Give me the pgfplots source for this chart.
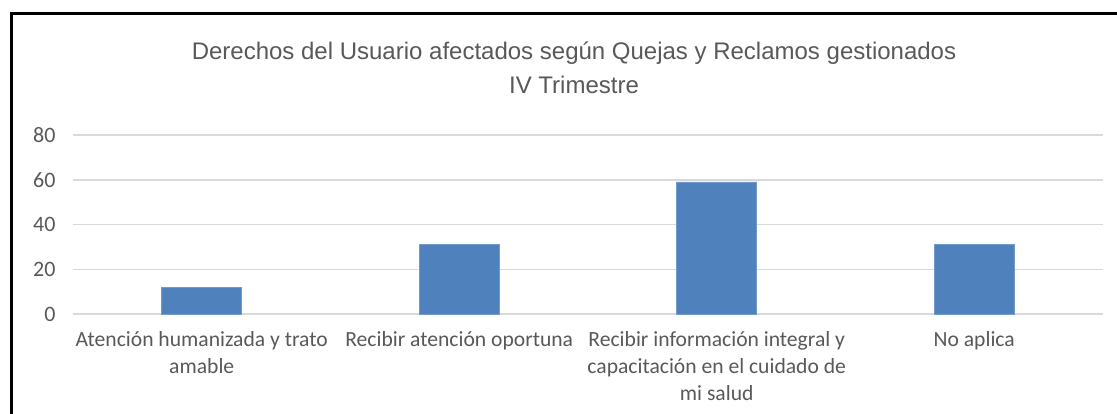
\documentclass[border=0pt]{standalone}
\usepackage{pgfplots}
\pgfplotsset{compat=1.18}
\usepackage{fontspec}
\setmainfont{Carlito}
\newfontfamily\titlefont{Liberation Sans}
\definecolor{barblue}{HTML}{4F81BD}
\definecolor{txtgray}{HTML}{595959}
\definecolor{gridgray}{HTML}{D9D9D9}
\begin{document}
\begin{tikzpicture}[x=1pt,y=1pt]
\useasboundingbox (0,0) rectangle (1117,413);
\fill[white] (0,0) rectangle (1117,413);
\draw[line width=3pt,black] (11,-20) -- (11,399) -- (1130,399);
\node[anchor=base,text=txtgray,font=\titlefont\fontsize{24}{28}\selectfont] at (574,353) {Derechos del Usuario afectados según Quejas y Reclamos gestionados};
\node[anchor=base,text=txtgray,font=\titlefont\fontsize{24}{28}\selectfont] at (574,319) {IV Trimestre};
\begin{axis}[
  at={(73pt,99pt)}, anchor=south west,
  scale only axis, width=1030pt, height=179pt,
  xmin=-0.5, xmax=3.5, ymin=0, ymax=80,
  ytick={0,20,40,60,80},
  xtick={0,1,2,3},
  xticklabels={{Atención humanizada y trato\\amable},{Recibir atención oportuna},{Recibir información integral y\\capacitación en el cuidado de\\mi salud},{No aplica}},
  axis line style={draw=none},
  major tick length=0pt,
  ymajorgrids, grid style={gridgray, line width=1.5pt},
  /pgf/number format/assume math mode=true,
  yticklabel style={text=txtgray, font=\fontsize{22}{26}\selectfont, xshift=-14pt},
  xticklabel style={text=txtgray, font=\fontsize{21.6}{27}\selectfont, align=center, yshift=-14pt},
  ybar, bar width=80pt,
  clip=false,
]
\addplot[fill=barblue, draw=barblue!80!white, line width=0.6pt] coordinates {(0,12) (1,31) (2,59) (3,31)};
\end{axis}
\end{tikzpicture}
\end{document}
